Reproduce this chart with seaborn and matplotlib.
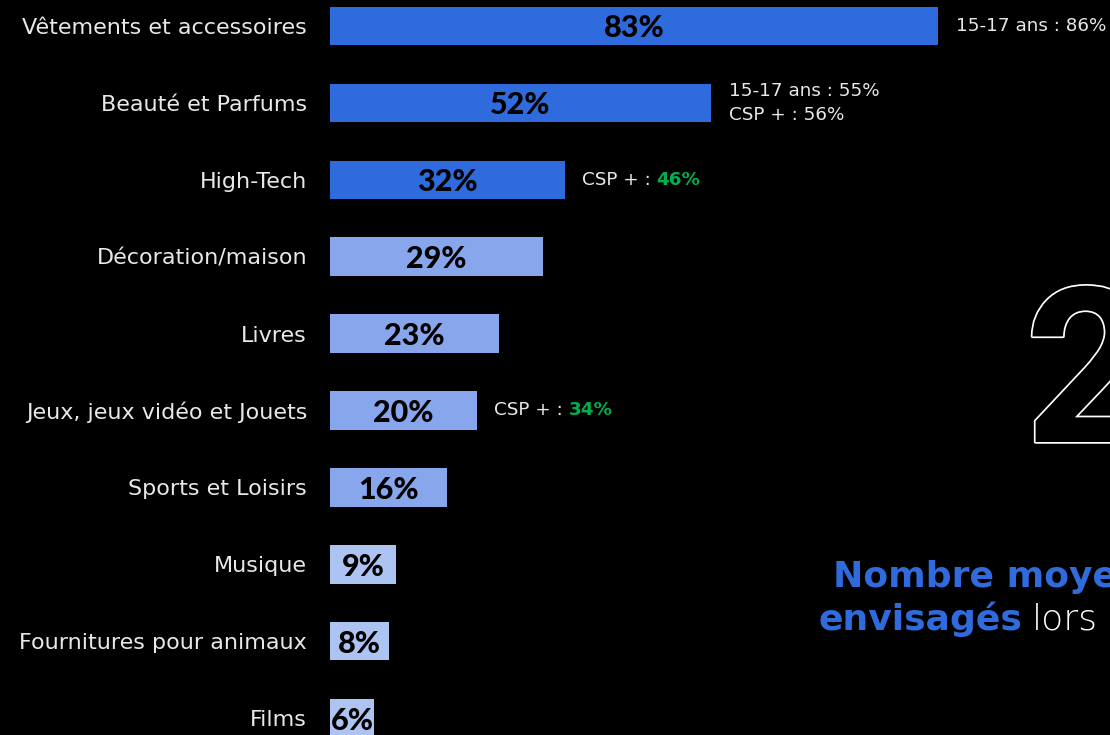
import matplotlib
matplotlib.use("Agg")
import matplotlib.pyplot as plt
import matplotlib.patheffects as pe
import seaborn as sns
import pandas as pd

categories = [
    "Vêtements et accessoires", "Beauté et Parfums", "High-Tech",
    "Décoration/maison", "Livres", "Jeux, jeux vidéo et Jouets",
    "Sports et Loisirs", "Musique", "Fournitures pour animaux", "Films",
]
values = [83, 52, 32, 29, 23, 20, 16, 9, 8, 6]
groups = ["top", "top", "top", "mid", "mid", "mid", "mid", "low", "low", "low"]

# Side notes: (row index, plain text, highlighted value or None)
notes = [
    (0, "15-17 ans : 86%", None),
    (1, "15-17 ans : 55%\nCSP + : 56%", None),
    (2, "CSP + : ", "46%"),
    (5, "CSP + : ", "34%"),
]

group_colors = {"top": "#2F6BDC", "mid": "#87A6EC", "low": "#ADC4F3"}
BG = "#000000"
TXT = "#E8E8E8"
GREEN = "#00B050"
LABEL_FONT = "DejaVu Sans"
VALUE_FONT = "Lato"

df = pd.DataFrame({"categorie": categories, "valeur": values, "groupe": groups})

sns.set_theme(style="white")
plt.rcParams["font.family"] = [LABEL_FONT]

fig = plt.figure(figsize=(11.1, 7.35), dpi=100, facecolor=BG)
ax = fig.add_axes([330 / 1110, 0, 780 / 1110, 1])
ax.set_facecolor(BG)

sns.barplot(
    data=df, y="categorie", x="valeur", hue="groupe", palette=group_colors,
    order=categories, hue_order=["top", "mid", "low"], dodge=False,
    width=0.5, legend=False, ax=ax, saturation=1, linewidth=0,
)

ax.set_xlim(0, 106.4)
ax.set_ylim(9.22, -0.338)
ax.set_xlabel("")
ax.set_ylabel("")
ax.set_xticks([])
for s in ax.spines.values():
    s.set_visible(False)
ax.tick_params(axis="y", length=0, pad=16.5, labelsize=16, labelcolor=TXT)

# Value labels centred inside each bar
for i, v in enumerate(values):
    ax.text(v / 2, i, f"{v}%", ha="center", va="center_baseline",
            fontsize=22, fontweight="black", color="#000000", family=VALUE_FONT)

# Side notes to the right of bars
for i, txt, hl in notes:
    t = ax.annotate(txt, xy=(values[i], i), xytext=(12.5, 0),
                    textcoords="offset points", ha="left", va="center",
                    fontsize=13.2, color=TXT, family=LABEL_FONT,
                    linespacing=1.4)
    if hl is not None:
        ax.annotate(hl, xy=(1, 0.5), xycoords=t, ha="left", va="center",
                    fontsize=13.2, color=GREEN, fontweight="bold",
                    family=LABEL_FONT)

# Large outlined figure on the right
fig.text(1025 / 1110, 1 - 442 / 735, "2", ha="left", va="baseline",
         fontsize=156, family="Roboto", fontweight="bold", color=BG,
         path_effects=[pe.withStroke(linewidth=2.5, foreground="white")])

# Caption on the right
fig.text(833 / 1110, 1 - 587 / 735, "Nombre moyen", ha="left", va="baseline",
         fontsize=26, fontweight="bold", color="#2F6BDC", family=LABEL_FONT)
cap = fig.text(818 / 1110, 1 - 630 / 735, "envisagés", ha="left",
               va="baseline", fontsize=26, fontweight="bold",
               color="#2F6BDC", family=LABEL_FONT)
fig.canvas.draw()
bb = cap.get_window_extent()
fig.text((bb.x1 + 10) / 1110, 1 - 630 / 735, "lors", ha="left", va="baseline",
         fontsize=26, color="white", family=LABEL_FONT, fontweight="light")

fig.savefig("out.png", dpi=100, facecolor=BG)
